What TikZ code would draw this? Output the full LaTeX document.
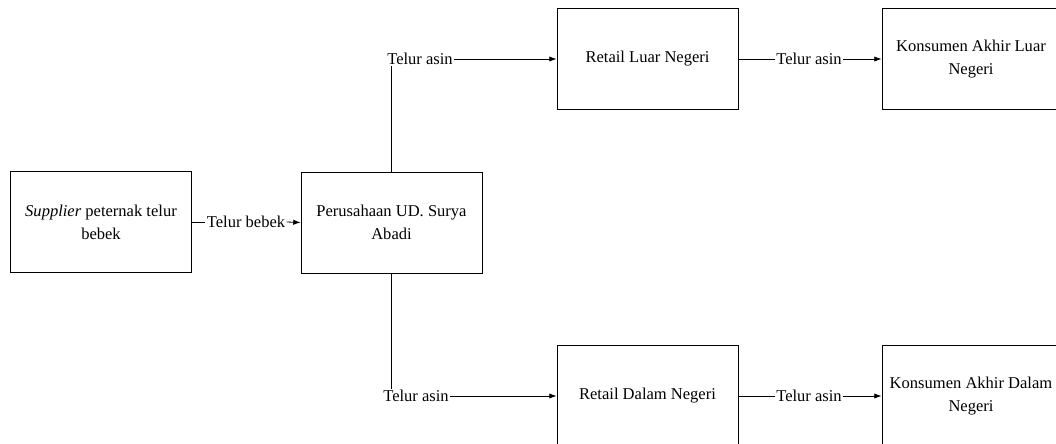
\documentclass[tikz,border=0pt]{standalone}
\usepackage{fontspec}
\setmainfont{Liberation Serif}
\usetikzlibrary{arrows.meta}
\begin{document}
\begin{tikzpicture}[x=0.75pt,y=-0.75pt,
  font=\fontsize{12.4}{15.5}\selectfont,
  box/.style={draw, line width=0.6pt, rectangle, minimum width=181*0.75pt, minimum height=101*0.75pt, align=center, inner sep=0pt, font=\fontsize{12.4}{15.75}\selectfont},
  lab/.style={inner sep=1pt},
  conn/.style={line width=0.6pt},
  arr/.style={conn, -{Latex[length=5.5pt,width=4pt]}}]
\useasboundingbox (0,0) rectangle (1056,443);
\clip (0,0) rectangle (1056,443);
\node[box] (sup) at (101,222) {\textit{Supplier} peternak telur\\[1.3pt]bebek};
\node[box] (per) at (391.5,222.5) {Perusahaan UD. Surya\\[1.3pt]Abadi};
\node[box] (rlu) at (647.5,59) {Retail Luar Negeri};
\node[box, minimum width=178*0.75pt] (klu) at (971,59) {Konsumen Akhir Luar\\[1.3pt]Negeri};
\node[box] (rda) at (647.5,396) {Retail Dalam Negeri};
\node[box, minimum width=178*0.75pt] (kda) at (971,396) {Konsumen Akhir Dalam\\[1.3pt]Negeri};
% labels
\node[lab] (lb) at (246,222) {Telur bebek};
\node[lab] (la1) at (420,59) {Telur asin};
\node[lab] (la2) at (416,396) {Telur asin};
\node[lab] (la3) at (809,59) {Telur asin};
\node[lab] (la4) at (809,396) {Telur asin};
% connectors
\draw[conn] (sup.east) -- (lb.west);
\draw[arr] (lb.east) -- (per.west);
\draw[conn] (per.north) -- (per.north |- la1.south);
\draw[arr] (la1.east) -- (rlu.west);
\draw[conn] (per.south) -- (per.south |- la2.north);
\draw[arr] (la2.east) -- (rda.west);
\draw[conn] (rlu.east) -- (la3.west);
\draw[arr] (la3.east) -- (klu.west);
\draw[conn] (rda.east) -- (la4.west);
\draw[arr] (la4.east) -- (kda.west);
\end{tikzpicture}
\end{document}
